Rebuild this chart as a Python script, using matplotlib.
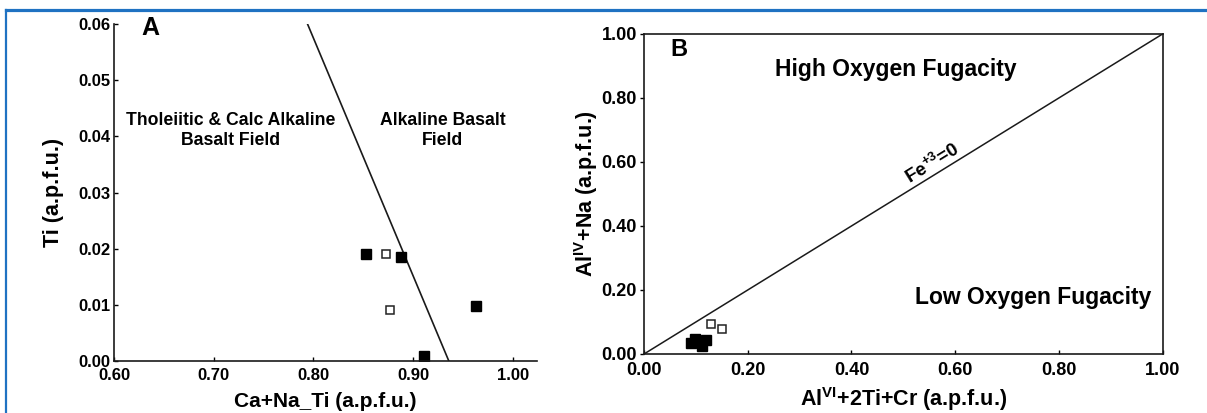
import matplotlib.pyplot as plt
from matplotlib.lines import Line2D

# Fonts: bold Arial-like everywhere, mathtext for the superscripts
plt.rcParams['font.family'] = ['Liberation Sans', 'DejaVu Sans']
plt.rcParams['font.weight'] = 'bold'
plt.rcParams['mathtext.fontset'] = 'custom'
plt.rcParams['mathtext.rm'] = 'Liberation Sans:bold'
plt.rcParams['mathtext.bf'] = 'Liberation Sans:bold'
plt.rcParams['mathtext.it'] = 'Liberation Sans:bold'

# Panel A: Ti vs Ca+Na-Ti
a_filled_x = [0.853, 0.888, 0.963, 0.911]
a_filled_y = [0.0191, 0.0186, 0.0098, 0.0009]
a_open_x = [0.873, 0.877]
a_open_y = [0.0191, 0.0091]
a_boundary_x = [0.794, 0.936]
a_boundary_y = [0.06, 0.0]
a_xticks = [0.60, 0.70, 0.80, 0.90, 1.00]
a_yticks = [0.00, 0.01, 0.02, 0.03, 0.04, 0.05, 0.06]

# Panel B: Al(IV)+Na vs Al(VI)+2Ti+Cr
b_filled_x = [0.091, 0.098, 0.111, 0.119]
b_filled_y = [0.035, 0.046, 0.025, 0.044]
b_open_x = [0.129, 0.150]
b_open_y = [0.093, 0.078]
b_boundary_x = [0.0, 1.0]
b_boundary_y = [0.0, 1.0]
b_ticks = [0.00, 0.20, 0.40, 0.60, 0.80, 1.00]

ink = '#1a1a1a'

fig = plt.figure(figsize=(12.07, 4.13), dpi=100)

# ---- Panel A ----
ax1 = fig.add_axes([0.0947, 0.1252, 0.3502, 0.8167])
ax1.plot(a_boundary_x, a_boundary_y, color=ink, lw=1.2)
ax1.plot(a_filled_x, a_filled_y, 's', color='black', ms=6.5, ls='none')
ax1.plot(a_open_x, a_open_y, 's', mfc='white', mec='#222', mew=1.1, ms=6.3, ls='none')
ax1.set_xlim(0.6, 1.0244)
ax1.set_ylim(0.0, 0.06)
ax1.set_xticks(a_xticks)
ax1.set_yticks(a_yticks)
ax1.set_xticklabels(['%.2f' % v for v in a_xticks])
ax1.set_yticklabels(['%.2f' % v for v in a_yticks])
ax1.spines['top'].set_visible(False)
ax1.spines['right'].set_visible(False)
for s in ['left', 'bottom']:
    ax1.spines[s].set_linewidth(1.2)
    ax1.spines[s].set_color(ink)
ax1.tick_params(axis='x', direction='in', length=3, width=1, labelsize=12, pad=5)
ax1.tick_params(axis='y', direction='in', length=3, width=1, labelsize=12, pad=3)
ax1.set_xlabel('Ca+Na_Ti (a.p.f.u.)', fontsize=15, fontweight='bold', labelpad=6)
ax1.set_ylabel('Ti (a.p.f.u.)', fontsize=15.5, fontweight='bold', labelpad=10)
ax1.text(0.6358, 0.0592, 'A', fontsize=18, fontweight='bold', ha='center', va='center')
ax1.text(0.717, 0.0411, 'Tholeiitic & Calc Alkaline\nBasalt Field', fontsize=12.7,
         fontweight='bold', ha='center', va='center', linespacing=1.25)
ax1.text(0.930, 0.0411, 'Alkaline Basalt\nField', fontsize=12.7,
         fontweight='bold', ha='center', va='center', linespacing=1.25)

# ---- Panel B ----
ax2 = fig.add_axes([0.5336, 0.1429, 0.4296, 0.7748])
ax2.plot(b_boundary_x, b_boundary_y, color=ink, lw=1.1)
ax2.plot(b_filled_x, b_filled_y, 's', color='black', ms=6.5, ls='none')
ax2.plot(b_open_x, b_open_y, 's', mfc='white', mec='#222', mew=1.1, ms=6.3, ls='none')
ax2.set_xlim(0, 1)
ax2.set_ylim(0, 1)
ax2.set_xticks(b_ticks)
ax2.set_yticks(b_ticks)
ax2.set_xticklabels(['%.2f' % v for v in b_ticks])
ax2.set_yticklabels(['%.2f' % v for v in b_ticks])
for s in ax2.spines.values():
    s.set_linewidth(1.2)
    s.set_color(ink)
ax2.tick_params(axis='x', direction='in', length=3, width=1, labelsize=13, pad=6)
ax2.tick_params(axis='y', direction='out', length=3, width=1, labelsize=13, pad=2)
ax2.set_xlabel(r'Al$^{\mathrm{VI}}$+2Ti+Cr (a.p.f.u.)', fontsize=15.5, fontweight='bold', labelpad=4)
ax2.set_ylabel(r'Al$^{\mathrm{IV}}$+Na (a.p.f.u.)', fontsize=15.5, fontweight='bold', labelpad=1)
ax2.text(0.0675, 0.95, 'B', fontsize=17, fontweight='bold', ha='center', va='center')
ax2.text(0.485, 0.8875, 'High Oxygen Fugacity', fontsize=16.5, fontweight='bold',
         ha='center', va='center')
ax2.text(0.750, 0.178, 'Low Oxygen Fugacity', fontsize=16.5, fontweight='bold',
         ha='center', va='center')
ax2.text(0.555, 0.597, r'Fe$^{+3}$=0', fontsize=13.5, fontweight='bold',
         ha='center', va='center', rotation=31.7, rotation_mode='anchor')

# blue frame along the top and left edges
fig.add_artist(Line2D([0.005, 1.0], [0.9746, 0.9746], color='#1f72c2', lw=2.3,
                      transform=fig.transFigure))
fig.add_artist(Line2D([0.005, 0.005], [0.0, 0.9746], color='#1f72c2', lw=1.6,
                      transform=fig.transFigure))

fig.savefig('out.png', dpi=100)
